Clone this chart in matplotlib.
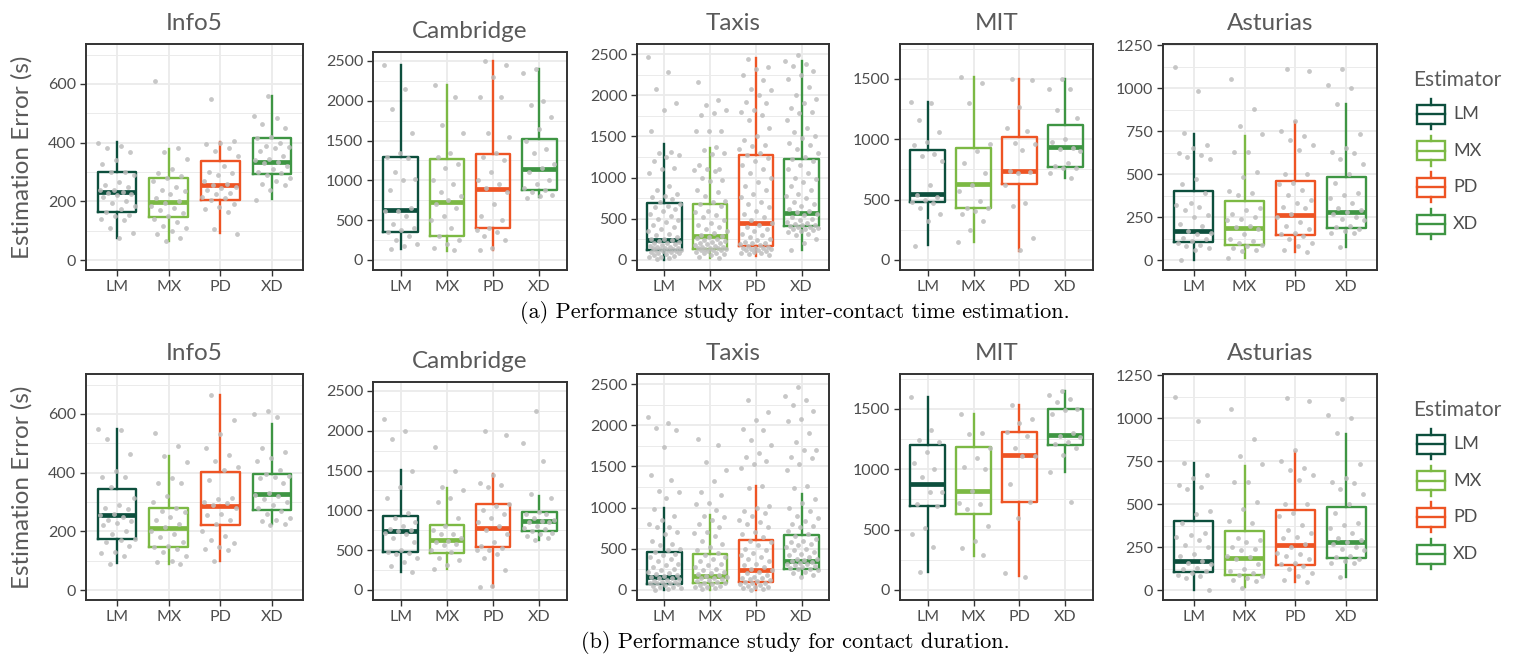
import numpy as np
import matplotlib
matplotlib.use("Agg")
import matplotlib.pyplot as plt
from matplotlib.patches import Rectangle
from matplotlib.ticker import MultipleLocator

plt.rcParams["font.family"] = ["Lato", "DejaVu Sans"]

estimators = ["LM", "MX", "PD", "XD"]
colors = ["#0d4f3d", "#7cb944", "#ee5424", "#3e9543"]
datasets = ["Info5", "Cambridge", "Taxis", "MIT", "Asturias"]
captions = ["(a) Performance study for inter-contact time estimation.",
            "(b) Performance study for contact duration."]

# box stats per estimator: (whisker low, q1, median, q3, whisker high)
# ---------- (a) inter-contact time ----------
info5_ict_stats = [(74, 162, 231, 301, 401), (66, 147, 197, 279, 379),
                   (91, 206, 255, 338, 402), (207, 292, 334, 416, 558)]
info5_ict_pts = [
    [400, 390, 380, 368, 340, 328, 300, 300, 290, 265, 255, 250, 240, 238, 232, 228, 225, 220,
     215, 200, 195, 185, 175, 165, 155, 150, 140, 135, 110, 92, 74],
    [610, 380, 368, 345, 310, 295, 285, 280, 270, 250, 240, 235, 225, 210, 200, 195, 185, 178,
     170, 160, 150, 140, 130, 115, 110, 100, 90, 75, 66],
    [550, 405, 400, 395, 380, 370, 355, 320, 300, 295, 290, 270, 260, 255, 250, 245, 240, 230,
     225, 215, 210, 205, 190, 180, 175, 165, 105, 90],
    [560, 490, 485, 465, 450, 420, 415, 400, 390, 385, 380, 370, 355, 345, 340, 335, 330, 320,
     310, 300, 295, 290, 280, 270, 260, 255, 240, 205]]

cambridge_ict_stats = [(134, 348, 632, 1298, 2450), (117, 306, 724, 1265, 2198),
                       (126, 402, 892, 1327, 2500), (796, 879, 1143, 1516, 2395)]
cambridge_ict_pts = [
    [2450, 2150, 1900, 1600, 1350, 1300, 1280, 1100, 1020, 1000, 880, 650, 620, 620, 550, 450,
     400, 380, 350, 300, 250, 200, 180, 140],
    [2200, 2050, 1700, 1600, 1350, 1300, 1200, 1150, 1000, 950, 850, 800, 750, 700, 650, 550,
     500, 400, 300, 250, 200, 150, 120],
    [2500, 2450, 2300, 2050, 2050, 1600, 1550, 1350, 1300, 1250, 1100, 1000, 950, 900, 850, 700,
     550, 500, 400, 380, 350, 300, 250, 150, 130],
    [2400, 2350, 2000, 1950, 1800, 1650, 1500, 1400, 1350, 1200, 1150, 1100, 1000, 950, 900,
     880, 850, 820, 800, 780]]

taxis_ict_stats = [(0, 122, 244, 691, 1402), (20, 130, 285, 683, 1362),
                   (53, 175, 447, 1276, 2451), (122, 407, 569, 1220, 2411)]
taxis_ict_pts = [
    [2460, 2280, 2080, 1900, 1820, 1570, 1310, 1300, 1280, 1250, 1200, 1120, 1100, 1060, 900,
     850, 800, 780, 760, 740, 700, 680, 660, 640, 620, 600, 560, 530, 500, 480, 460, 420, 400,
     380, 350, 320, 300, 280, 260, 250, 240, 230, 220, 210, 200, 190, 180, 170, 160, 155, 150,
     145, 140, 135, 130, 125, 120, 115, 110, 105, 100, 95, 90, 80, 70, 60, 50, 40, 30, 20, 10],
    [2160, 1940, 1880, 1820, 1780, 1760, 1570, 1560, 1560, 1370, 1330, 1300, 1290, 1150, 1110,
     1100, 1090, 1080, 1000, 970, 960, 850, 820, 780, 720, 700, 680, 660, 600, 580, 550, 520,
     480, 450, 420, 400, 380, 350, 330, 300, 290, 280, 270, 250, 240, 230, 220, 210, 200, 190,
     180, 170, 160, 155, 150, 145, 140, 135, 130, 125, 120, 115, 110, 100, 90, 80, 70, 60, 40, 20],
    [2440, 2340, 2320, 2250, 2180, 2080, 2060, 2000, 1920, 1900, 1820, 1800, 1760, 1700, 1600,
     1500, 1460, 1400, 1380, 1350, 1300, 1280, 1240, 1200, 1150, 1100, 1050, 1000, 950, 900,
     850, 800, 760, 700, 680, 640, 600, 560, 520, 480, 450, 420, 400, 380, 350, 320, 300, 280,
     260, 240, 220, 210, 200, 190, 180, 170, 160, 150, 145, 140, 135, 130, 125, 120, 110, 100,
     90, 80, 70, 60],
    [2490, 2420, 2380, 2360, 2300, 2250, 2200, 2100, 2000, 1960, 1900, 1850, 1800, 1780, 1700,
     1600, 1550, 1500, 1480, 1420, 1400, 1350, 1300, 1250, 1220, 1200, 1150, 1100, 1050, 1000,
     980, 950, 900, 850, 800, 780, 750, 700, 680, 650, 620, 600, 580, 560, 540, 520, 500, 480,
     460, 450, 440, 430, 420, 410, 400, 400, 390, 380, 370, 360, 350, 340, 320, 300, 250, 200, 120]]

mit_ict_stats = [(124, 483, 547, 912, 1309), (152, 428, 627, 931, 1519),
                 (77, 633, 740, 1022, 1497), (677, 773, 934, 1119, 1497)]
mit_ict_pts = [
    [1310, 1300, 1160, 1060, 980, 950, 880, 860, 820, 620, 540, 520, 500, 480, 470, 430, 380, 320, 120],
    [1520, 1470, 1300, 960, 900, 800, 720, 620, 570, 490, 430, 430, 410, 380, 320, 250, 150],
    [1500, 1490, 1270, 1090, 1070, 970, 960, 910, 740, 730, 720, 620, 470, 450, 180, 80],
    [1500, 1420, 1420, 1240, 1180, 1000, 980, 930, 920, 900, 800, 780, 760, 760, 720, 680]]

asturias_ict_stats = [(0, 105, 171, 399, 731), (10, 85, 188, 343, 721),
                      (45, 145, 262, 459, 802), (74, 184, 277, 483, 905)]
asturias_ict_pts = [
    [1120, 980, 740, 670, 650, 620, 610, 600, 590, 470, 440, 390, 330, 320, 310, 290, 260, 250,
     210, 200, 170, 160, 150, 130, 120, 110, 100, 90, 80, 70, 60, 0],
    [1050, 880, 780, 730, 630, 630, 510, 480, 400, 390, 380, 300, 290, 270, 250, 240, 230, 200,
     190, 180, 150, 120, 110, 100, 90, 80, 70, 60, 50, 10],
    [1110, 1100, 810, 750, 720, 700, 670, 640, 500, 500, 450, 440, 410, 380, 350, 330, 310, 300,
     270, 250, 220, 200, 180, 160, 150, 140, 120, 100, 80, 60, 45],
    [1110, 1020, 1000, 910, 730, 650, 630, 620, 590, 560, 500, 450, 390, 380, 360, 330, 300, 290,
     280, 270, 250, 240, 230, 200, 190, 180, 170, 160, 160, 75]]

# ---------- (b) contact duration ----------
info5_dur_stats = [(93, 174, 256, 343, 549), (88, 147, 211, 278, 458),
                   (100, 223, 286, 402, 665), (225, 271, 328, 396, 566)]
info5_dur_pts = [
    [550, 545, 515, 465, 405, 385, 385, 350, 315, 290, 280, 275, 260, 255, 250, 240, 235, 230,
     220, 200, 190, 175, 170, 165, 150, 130, 125, 115, 90],
    [535, 490, 455, 435, 380, 365, 365, 320, 300, 280, 270, 265, 250, 240, 225, 215, 200, 190,
     180, 165, 150, 145, 140, 130, 115, 100, 95, 88],
    [665, 578, 533, 485, 460, 440, 420, 410, 375, 315, 310, 300, 295, 290, 280, 260, 255, 240,
     225, 200, 185, 170, 160, 145, 140, 135, 100],
    [610, 600, 590, 485, 470, 450, 440, 410, 395, 390, 385, 380, 365, 330, 325, 320, 310, 300,
     290, 280, 270, 260, 245, 240, 235, 225, 220]]

cambridge_dur_stats = [(230, 473, 741, 925, 1508), (260, 469, 628, 821, 1286),
                       (34, 540, 783, 1076, 1457), (628, 737, 871, 984, 1181)]
cambridge_dur_pts = [
    [2150, 2000, 1900, 1500, 1300, 1150, 970, 900, 850, 800, 760, 750, 740, 720, 700, 650, 600,
     500, 480, 460, 450, 400, 350, 300, 230],
    [1800, 1500, 1300, 1250, 1150, 1100, 900, 800, 750, 700, 700, 650, 620, 600, 580, 560, 500,
     480, 400, 380, 320, 260],
    [2000, 1950, 1450, 1350, 1320, 1300, 1080, 1050, 1000, 950, 900, 850, 800, 750, 700, 600,
     550, 530, 500, 500, 450, 400, 250, 50, 40],
    [2250, 1850, 1620, 1200, 1150, 980, 960, 950, 900, 880, 870, 860, 850, 800, 780, 760, 740,
     720, 700, 680, 650, 630]]

taxis_dur_stats = [(0, 77, 154, 459, 996), (0, 81, 171, 439, 911),
                   (0, 102, 244, 610, 1268), (183, 260, 354, 663, 1159)]
taxis_dur_pts = [
    [2100, 2030, 1970, 1940, 1730, 1390, 1330, 1200, 1190, 1120, 980, 900, 850, 800, 770, 760,
     700, 680, 600, 560, 540, 500, 480, 460, 440, 420, 400, 380, 350, 320, 300, 280, 260, 240,
     220, 200, 190, 180, 170, 160, 150, 140, 130, 120, 110, 100, 95, 90, 85, 80, 70, 60, 50, 40,
     30, 20, 10, 0],
    [1830, 1760, 1550, 1460, 1320, 1190, 1150, 1060, 1040, 970, 900, 880, 850, 800, 760, 700,
     690, 650, 600, 560, 520, 480, 450, 420, 400, 380, 350, 320, 300, 280, 260, 240, 220, 200,
     190, 180, 170, 160, 150, 140, 130, 120, 110, 100, 90, 80, 70, 60, 50, 40, 30, 20, 10],
    [2310, 2160, 2060, 1960, 1940, 1820, 1760, 1660, 1620, 1560, 1530, 1480, 1260, 1240, 1020,
     1000, 960, 940, 900, 850, 820, 800, 760, 700, 680, 640, 600, 580, 540, 500, 480, 450, 420,
     400, 380, 350, 320, 300, 280, 260, 240, 220, 200, 180, 160, 150, 140, 130, 120, 110, 100,
     90, 80, 70, 60, 50, 40, 30, 20, 10, 0],
    [2470, 2350, 2310, 2250, 2170, 2070, 2050, 1910, 1800, 1700, 1700, 1620, 1600, 1530, 1460,
     1260, 1240, 1100, 1050, 1000, 960, 900, 870, 840, 800, 780, 760, 720, 680, 650, 620, 600,
     580, 560, 540, 520, 500, 480, 460, 440, 420, 400, 380, 370, 360, 350, 340, 330, 320, 310,
     300, 290, 280, 270, 260, 250, 240, 220, 200, 180, 160]]

mit_dur_stats = [(152, 699, 881, 1202, 1597), (285, 627, 823, 1182, 1459),
                 (119, 729, 1119, 1312, 1533), (981, 1202, 1282, 1497, 1649)]
mit_dur_pts = [
    [1600, 1330, 1240, 1230, 1140, 1050, 1000, 940, 810, 810, 710, 700, 510, 460, 360, 150],
    [1460, 1300, 1290, 1180, 1090, 1020, 1000, 820, 720, 710, 670, 530, 410, 350, 290],
    [1530, 1420, 1380, 1310, 1280, 1180, 1110, 1110, 880, 730, 600, 140, 110],
    [1650, 1620, 1580, 1560, 1500, 1490, 1460, 1300, 1280, 1270, 1230, 1210, 1180, 1120, 980, 730]]

asturias_dur_stats = [(0, 105, 171, 403, 736), (15, 85, 188, 345, 721),
                      (45, 145, 264, 463, 804), (74, 186, 279, 484, 905)]
asturias_dur_pts = [
    [1120, 980, 740, 670, 650, 610, 600, 590, 460, 440, 390, 330, 320, 310, 290, 260, 250, 210,
     200, 170, 160, 150, 130, 120, 110, 100, 90, 80, 70, 0],
    [1050, 880, 780, 730, 630, 630, 510, 470, 400, 390, 300, 290, 280, 250, 240, 230, 200, 190,
     180, 150, 120, 110, 100, 90, 80, 70, 60, 50, 10],
    [1115, 1100, 815, 750, 710, 700, 670, 640, 500, 500, 450, 430, 380, 350, 330, 310, 300, 270,
     250, 215, 210, 200, 180, 160, 150, 140, 120, 100, 80, 60, 45],
    [1110, 1020, 1000, 915, 730, 650, 630, 620, 590, 560, 500, 450, 390, 380, 360, 330, 300, 290,
     280, 270, 250, 240, 230, 200, 190, 180, 170, 160, 160, 75]]

rows = [
    [(info5_ict_stats, info5_ict_pts), (cambridge_ict_stats, cambridge_ict_pts),
     (taxis_ict_stats, taxis_ict_pts), (mit_ict_stats, mit_ict_pts),
     (asturias_ict_stats, asturias_ict_pts)],
    [(info5_dur_stats, info5_dur_pts), (cambridge_dur_stats, cambridge_dur_pts),
     (taxis_dur_stats, taxis_dur_pts), (mit_dur_stats, mit_dur_pts),
     (asturias_dur_stats, asturias_dur_pts)],
]

# layout in pixels (left, right, top) for row 1; row 2 is shifted by 330 px
W, H = 1513, 655
panel_px = [(86, 303, 44), (373, 567, 52), (637, 829, 44), (900, 1093, 44), (1163, 1377, 44)]
bottom_px = 270
row_shift = 330
ylims = [(-34, 736), (-126, 2613), (-122, 2622), (-83, 1790), (-58, 1256)]
ysteps = [200, 500, 500, 500, 250]

TEXT = "#4d4d4d"
GRID = "#ebebeb"

fig = plt.figure(figsize=(W / 100, H / 100), dpi=100)


def draw_panel(ax, stats, pts, ylim, step, title):
    ax.set_xlim(0.4, 4.6)
    ax.set_ylim(*ylim)
    ax.yaxis.set_major_locator(MultipleLocator(step))
    ax.yaxis.set_minor_locator(MultipleLocator(step / 2))
    ax.set_xticks(range(1, 5))
    ax.set_xticklabels(estimators)
    ax.grid(True, which="major", color=GRID, lw=1.3, zorder=0)
    ax.grid(True, which="minor", axis="y", color=GRID, lw=0.7, zorder=0)
    ax.tick_params(which="minor", length=0)
    ax.tick_params(which="major", length=4, width=1, color="#333333",
                   labelcolor=TEXT, labelsize=11.5, pad=3)
    for s in ax.spines.values():
        s.set_color("#333333")
        s.set_linewidth(1.4)
    ax.set_axisbelow(True)
    bxp_stats = []
    for st in stats:
        bxp_stats.append(dict(whislo=st[0], q1=st[1], med=st[2], q3=st[3], whishi=st[4], fliers=[]))
    for i, (bs, c) in enumerate(zip(bxp_stats, colors)):
        ax.bxp([bs], positions=[i + 1], widths=0.75, showcaps=False, showfliers=False,
               boxprops=dict(color=c, lw=1.7),
               whiskerprops=dict(color=c, lw=1.7),
               medianprops=dict(color=c, lw=3.4, solid_capstyle="butt"),
               manage_ticks=False)
    for i, vals in enumerate(pts):
        vals = np.asarray(vals, dtype=float)
        n = len(vals)
        jit = ((np.arange(n) * 0.6180339 + 0.13 * i) % 1 - 0.5) * 0.72
        ax.scatter(i + 1 + jit, vals, s=12, color="#bdbdbd", alpha=0.85, lw=0, zorder=5)
    ax.set_title(title, color="#5a5a5a", fontsize=17.5, pad=10)


for r, row in enumerate(rows):
    for p, (stats, pts) in enumerate(row):
        left, right, top = panel_px[p]
        top += r * row_shift
        bot = bottom_px + r * row_shift
        ax = fig.add_axes([left / W, 1 - bot / H, (right - left) / W, (bot - top) / H])
        draw_panel(ax, stats, pts, ylims[p], ysteps[p], datasets[p])
    fig.text(22 / W, 1 - (157 + r * row_shift) / H, "Estimation Error (s)", rotation=90,
             ha="center", va="center", color="#5a5a5a", fontsize=17.5)
    fig.text(795 / W, 1 - (313 + r * row_shift) / H, captions[r], ha="center", va="center",
             fontsize=16, family=["cmr10", "DejaVu Serif"], color="black")

# legends drawn in a pixel-space overlay
lg = fig.add_axes([0, 0, 1, 1])
lg.set_xlim(0, W)
lg.set_ylim(H, 0)
lg.axis("off")
for r in range(2):
    dy = r * row_shift
    lg.text(1413, 80 + dy, "Estimator", ha="left", va="center", color="#5a5a5a", fontsize=15)
    for k, (name, c) in enumerate(zip(estimators, colors)):
        cy = 114 + k * 36.7 + dy
        lg.add_patch(Rectangle((1417, cy - 9.5), 28, 19, fill=False, ec=c, lw=1.7))
        lg.plot([1417, 1445], [cy, cy], color=c, lw=1.7)
        lg.plot([1431, 1431], [cy - 15, cy - 9.5], color=c, lw=1.7)
        lg.plot([1431, 1431], [cy + 9.5, cy + 15], color=c, lw=1.7)
        lg.text(1453, cy, name, ha="left", va="center", color=TEXT, fontsize=13)

fig.savefig("out.png", dpi=100)
